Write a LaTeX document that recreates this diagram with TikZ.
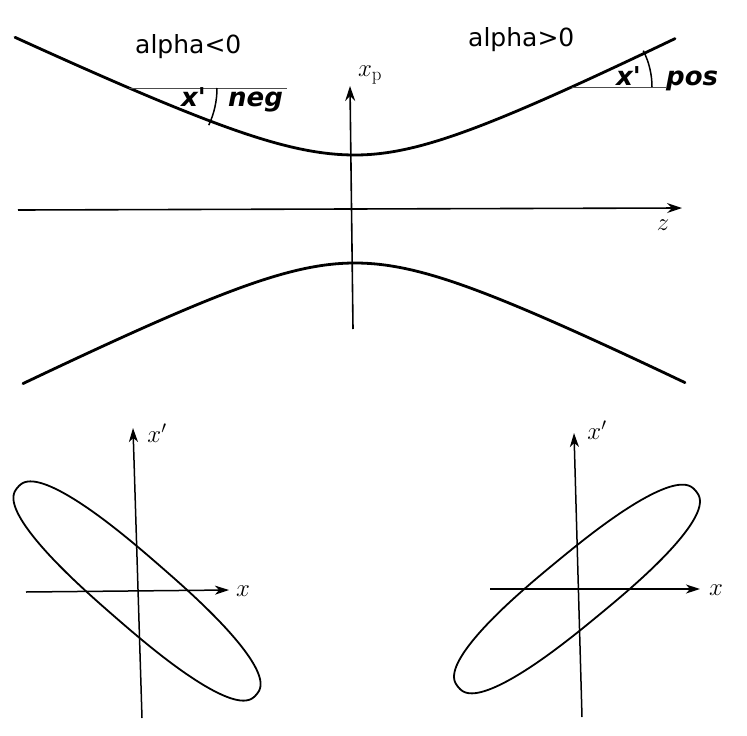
\documentclass[tikz,border=0pt]{standalone}
\usepackage{fontspec}
\newfontfamily\lab{DejaVu Sans}
\usetikzlibrary{arrows.meta}
\begin{document}
\begin{tikzpicture}[x=1pt,y=-1pt,
  axis/.style={line width=1.6pt,-{Stealth[length=15pt,width=10pt,inset=5pt]}},
  saxis/.style={line width=1.5pt,-{Stealth[length=14pt,width=9pt,inset=4pt]}},
  curve/.style={line width=2.8pt,line cap=round},
  ell/.style={line width=1.8pt,line join=round},
  thinl/.style={line width=1pt,black!70},
  arcl/.style={line width=1.5pt},
  txt/.style={font=\lab\fontsize{25}{30}\selectfont,inner sep=0pt,anchor=base west},
  btxt/.style={font=\lab\bfseries\itshape\fontsize{26}{30}\selectfont,inner sep=0pt,anchor=base west},
  mlab/.style={font=\fontsize{27}{30}\selectfont,inner sep=0pt}]
\useasboundingbox (0,0) rectangle (747,736);

% upper hyperbola
\draw[curve] plot[domain=15:355,samples=80,smooth] (\x,{209-10*sqrt(29.16+0.2297*((\x-355)/10)*((\x-355)/10))})
  -- plot[domain=355:675,samples=80,smooth] (\x,{209-10*sqrt(29.16+0.255*((\x-355)/10)*((\x-355)/10))});
% lower hyperbola
\draw[curve] plot[domain=23:685,samples=120,smooth] (\x,{209+10*sqrt(29.16+0.25*((\x-355)/10)*((\x-355)/10))});

% z axis
\coordinate (zS) at (18,210);
\coordinate (zE) at (682,208);
\draw[axis] (zS) -- (zE);
\node[mlab] (zl) at (663,225) {$z$};

% xp axis
\coordinate (pS) at (353,329);
\coordinate (pE) at (350,86);
\draw[axis] (pS) -- (pE);
\node[mlab] (pl) at (370,75) {$x_{\mathrm{p}}$};

% labels
\node[txt] (an) at (135,53) {alpha<0};
\node[txt] (ap) at (468,46) {alpha>0};

% negative angle marker
\coordinate (nc) at (129,88);
\coordinate (ne) at (287,88);
\draw[thinl] (nc) -- (ne);
\draw[arcl] ([shift={(88pt,0pt)}]nc) arc[start angle=0,end angle=-25,radius=88pt];
\node[btxt] (nx) at (181,106) {x'};
\node[btxt] (nn) at (228,106) {neg};

% positive angle marker
\coordinate (pc) at (572,87);
\coordinate (pe) at (666,87);
\draw[thinl] (pc) -- (pe);
\draw[arcl] ([shift={(80pt,0pt)}]pc) arc[start angle=0,end angle=27,radius=80pt];
\node[btxt] (px) at (616,85) {x'};
\node[btxt] (pp) at (666,85) {pos};

% bottom-left phase ellipse
\begin{scope}[shift={(137,591)},rotate=-41]
  \draw[ell] plot[smooth cycle,domain=1:359,samples=180,variable=\t]
    ({158*sign(cos(\t))*abs(cos(\t))^0.8},{34*sign(sin(\t))*abs(sin(\t))^0.8});
\end{scope}
\coordinate (lvS) at (142,718);
\coordinate (lvE) at (133,428);
\coordinate (lhS) at (26,592);
\coordinate (lhE) at (229,590);
\draw[saxis] (lvS) -- (lvE);
\draw[saxis] (lhS) -- (lhE);
\node[mlab] (lxl) at (243,591) {$x$};
\node[mlab] (lyl) at (157,433) {$x'$};

% bottom-right phase ellipse
\begin{scope}[shift={(577,589)},rotate=39.5]
  \draw[ell] plot[smooth cycle,domain=1:359,samples=180,variable=\t]
    ({154*sign(cos(\t))*abs(cos(\t))^0.8},{34*sign(sin(\t))*abs(sin(\t))^0.8});
\end{scope}
\coordinate (rvS) at (582,717);
\coordinate (rvE) at (574,433);
\coordinate (rhS) at (490,589);
\coordinate (rhE) at (700,589);
\draw[saxis] (rvS) -- (rvE);
\draw[saxis] (rhS) -- (rhE);
\node[mlab] (rxl) at (716,590) {$x$};
\node[mlab] (ryl) at (597,430) {$x'$};
\end{tikzpicture}
\end{document}
